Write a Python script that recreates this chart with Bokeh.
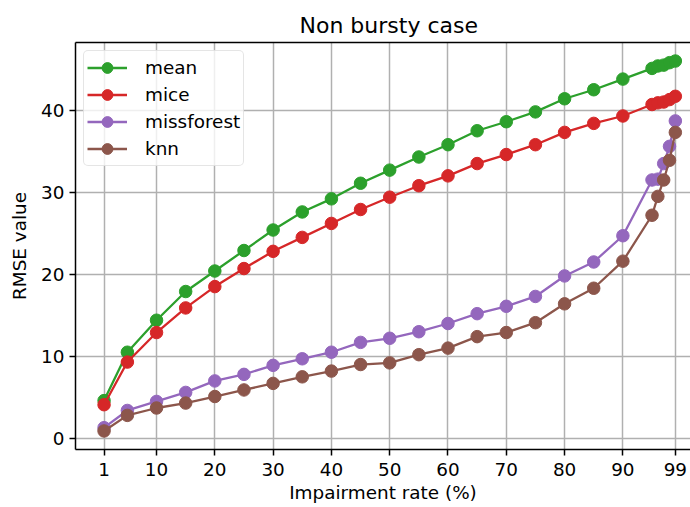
from bokeh.plotting import figure
from bokeh.models import FixedTicker, LinearAxis, Range1d, Legend
from bokeh.embed import file_html
from bokeh.resources import INLINE

rates = [1, 5, 10, 15, 20, 25, 30, 35, 40, 45, 50, 55, 60, 65, 70, 75, 80, 85, 90, 95, 96, 97, 98, 99]
mean_vals = [4.6, 10.5, 14.4, 17.9, 20.4, 22.9, 25.4, 27.6, 29.2, 31.1, 32.7, 34.3, 35.8, 37.5, 38.6, 39.8,
             41.4, 42.5, 43.8, 45.1, 45.4, 45.5, 45.8, 46.0]
mice_vals = [4.1, 9.3, 12.9, 15.9, 18.5, 20.7, 22.8, 24.5, 26.2, 27.9, 29.4, 30.8, 32.0, 33.5, 34.6, 35.8,
             37.3, 38.4, 39.3, 40.7, 40.9, 41.0, 41.3, 41.7]
missforest_vals = [1.3, 3.4, 4.5, 5.6, 7.0, 7.8, 8.9, 9.7, 10.5, 11.7, 12.2, 13.0, 14.0, 15.2, 16.1, 17.3,
                   19.8, 21.5, 24.7, 31.5, 31.6, 33.5, 35.6, 38.7]
knn_vals = [0.9, 2.8, 3.7, 4.3, 5.1, 5.9, 6.7, 7.5, 8.2, 9.0, 9.2, 10.2, 11.0, 12.4, 12.9, 14.1,
            16.4, 18.3, 21.6, 27.2, 29.5, 31.5, 33.9, 37.3]
x_ticks = [1, 10, 20, 30, 40, 50, 60, 70, 80, 90, 99]
y_ticks = [0, 10, 20, 30, 40]

series = [
    ("mean", mean_vals, "#2ca02c"),
    ("mice", mice_vals, "#d62728"),
    ("missforest", missforest_vals, "#9467bd"),
    ("knn", knn_vals, "#8c564b"),
]

FONT = "DejaVu Sans"
LABEL_SIZE = "18.4px"

p = figure(width=690, height=507, output_backend="svg", toolbar_location=None,
           x_range=Range1d(-3.9, 101.6), y_range=Range1d(-1.36, 48.26),
           min_border_left=75, min_border_right=0, min_border_top=42, min_border_bottom=58,
           title="Non bursty case")
p.outline_line_color = None
p.background_fill_color = "white"
p.border_fill_color = "white"

p.title.text_font = FONT
p.title.text_font_size = "22px"
p.title.text_font_style = "normal"
p.title.align = "left"
p.title.offset = 224
p.title.standoff = 10
p.title.text_color = "black"

renderers = []
for name, vals, color in series:
    l = p.line(rates, vals, line_color=color, line_width=2.3)
    s = p.scatter(rates, vals, size=12.5, fill_color=color, line_color=color, marker="circle")
    renderers.append((name, [l, s]))

legend = Legend(items=renderers, location="top_left")
legend.label_text_font = FONT
legend.label_text_font_size = LABEL_SIZE
legend.label_text_color = "black"
legend.glyph_width = 40
legend.glyph_height = 27
legend.label_height = 27
legend.spacing = 0
legend.label_standoff = 18
legend.padding = 3
legend.margin = 8
legend.border_line_color = "#cccccc"
legend.border_line_width = 1.5
legend.background_fill_alpha = 0.8
legend.border_radius = 5
p.add_layout(legend, "center")

for ax in [p.xaxis[0], p.yaxis[0]]:
    ax.axis_line_color = "black"
    ax.axis_line_width = 1.5
    ax.major_tick_line_color = "black"
    ax.major_tick_line_width = 1.5
    ax.major_tick_in = 0
    ax.major_tick_out = 6
    ax.minor_tick_line_color = None
    ax.major_label_text_font = FONT
    ax.major_label_text_font_size = LABEL_SIZE
    ax.major_label_text_color = "black"
    ax.axis_label_text_font = FONT
    ax.axis_label_text_font_size = LABEL_SIZE
    ax.axis_label_text_font_style = "normal"
    ax.axis_label_text_color = "black"

p.xaxis[0].ticker = FixedTicker(ticks=x_ticks)
p.yaxis[0].ticker = FixedTicker(ticks=y_ticks)
p.xaxis[0].axis_label = "Impairment rate (%)"
p.yaxis[0].axis_label = "RMSE value"
p.xaxis[0].major_label_standoff = 7
p.yaxis[0].major_label_standoff = 5
p.xaxis[0].axis_label_standoff = 3
p.yaxis[0].axis_label_standoff = 8

top = LinearAxis(ticker=FixedTicker(ticks=[]))
top.axis_line_color = "black"
top.axis_line_width = 1.5
top.major_tick_line_color = None
top.minor_tick_line_color = None
top.major_label_text_font_size = "0px"
top.major_label_standoff = 0
p.add_layout(top, "above")

p.xgrid.grid_line_color = "#b0b0b0"
p.ygrid.grid_line_color = "#b0b0b0"
p.xgrid.grid_line_width = 1.5
p.ygrid.grid_line_width = 1.5

with open("out.html", "w") as f:
    f.write(file_html(p, INLINE))
